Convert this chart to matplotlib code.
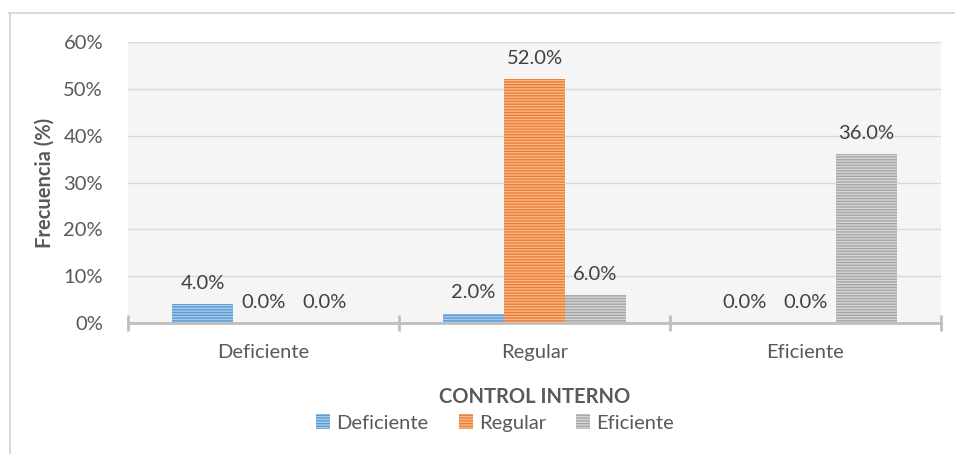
import matplotlib
matplotlib.use("Agg")
import matplotlib.pyplot as plt
from matplotlib.lines import Line2D
from matplotlib.patches import Patch
import numpy as np

plt.rcParams.update({
    "font.family": ["Lato", "DejaVu Sans"],
    "hatch.linewidth": 1.0,
})

CATEGORIES = ["Deficiente", "Regular", "Eficiente"]
SERIES = ["Deficiente", "Regular", "Eficiente"]
VALUES = {
    "Deficiente": [4.0, 2.0, 0.0],
    "Regular":    [0.0, 52.0, 0.0],
    "Eficiente":  [0.0, 6.0, 36.0],
}
FILL = {"Deficiente": "#a9cbea", "Regular": "#f6b88c", "Eficiente": "#d6d6d6"}
LINE = {"Deficiente": "#5b9bd5", "Regular": "#ed7d31", "Eficiente": "#a5a5a5"}
TXT = "#595959"
FS = 14.5

fig = plt.figure(figsize=(9.55, 4.54), dpi=100)
ax = fig.add_axes([128 / 955, 1 - 323 / 454, (941 - 128) / 955, (323 - 42) / 454])
ax.set_facecolor("#f5f5f5")

x = np.arange(len(CATEGORIES))
w = 0.225
for i, s in enumerate(SERIES):
    pos = x + (i - 1) * w
    ax.bar(pos, VALUES[s], w, color=FILL[s], edgecolor=LINE[s], linewidth=0,
           hatch="------", zorder=3)
    for px, v in zip(pos, VALUES[s]):
        ax.annotate(f"{v:.1f}%", (px, v), xytext=(0, 15), textcoords="offset points",
                    ha="center", va="center", fontsize=FS, color="#404040", zorder=4)

ax.set_xlim(-0.5, 2.5)
ax.set_ylim(0, 60)
ax.set_yticks(range(0, 61, 10))
ax.set_yticklabels([f"{t}%" for t in range(0, 61, 10)])
ax.yaxis.grid(True, color="#d9d9d9", linewidth=1.0, zorder=0)
ax.set_axisbelow(True)
for sp in ["top", "right", "left"]:
    ax.spines[sp].set_visible(False)
ax.spines["bottom"].set_color("#bfbfbf")
ax.spines["bottom"].set_linewidth(2.0)
ax.spines["bottom"].set_zorder(5)

ax.set_xticks(x)
ax.set_xticklabels(CATEGORIES)
ax.set_xticks([-0.5, 0.5, 1.5, 2.5], minor=True)
ax.tick_params(axis="x", which="major", length=0, pad=15, labelsize=FS, labelcolor=TXT)
ax.tick_params(axis="x", which="minor", length=11, width=2, direction="inout", color="#bfbfbf")
ax.tick_params(axis="y", length=0, pad=18, labelsize=FS, labelcolor=TXT)

ax.set_ylabel("Frecuencia (%)", fontsize=FS, fontweight="bold", color=TXT, labelpad=6)
ax.set_xlabel("CONTROL INTERNO", fontsize=FS, fontweight="bold", color=TXT, labelpad=19)

handles = [Patch(facecolor=FILL[s], edgecolor=LINE[s], linewidth=0, hatch="------",
                 label=s) for s in SERIES]
leg = fig.legend(handles=handles, loc="center", bbox_to_anchor=(495 / 955, 1 - 423 / 454),
                 ncol=3, frameon=False, fontsize=FS, handlelength=0.7, handleheight=0.7,
                 handletextpad=0.3, columnspacing=1.5)
for t in leg.get_texts():
    t.set_color(TXT)

# outer chart frame
fig.add_artist(Line2D([9.5 / 955, 9.5 / 955], [0, 1 - 13 / 454], color="#d9d9d9", lw=1.5))
fig.add_artist(Line2D([9 / 955, 1], [1 - 13 / 454, 1 - 13 / 454], color="#d9d9d9", lw=1.5))

fig.savefig("out.png", dpi=100)
